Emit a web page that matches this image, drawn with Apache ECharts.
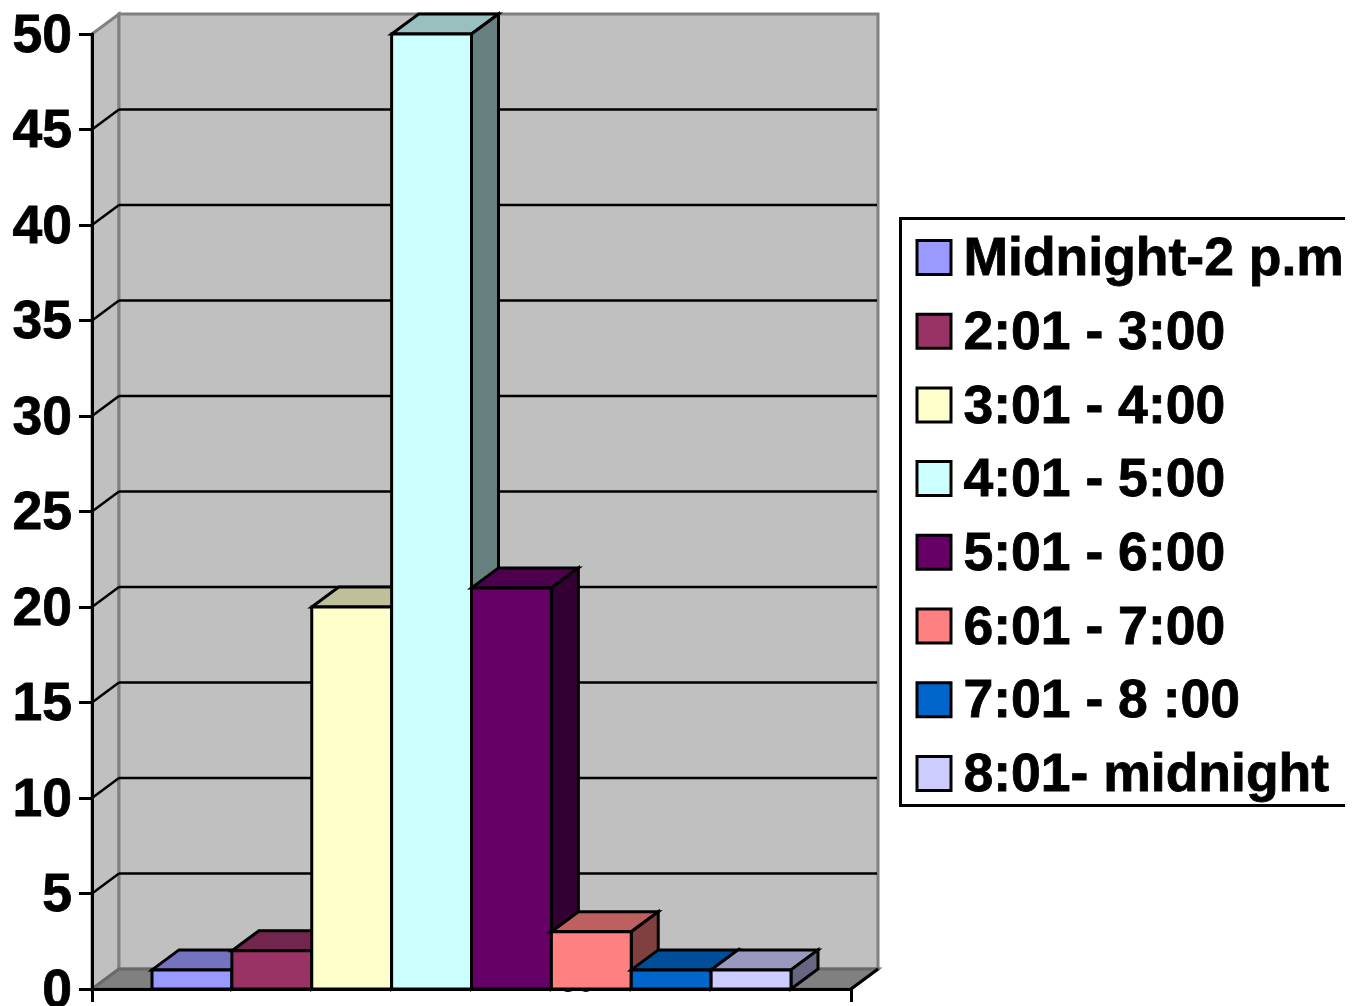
<!DOCTYPE html>
<html>
<head>
<meta charset="utf-8">
<title>Arrivals by time of day</title>
<style>
  html, body { margin: 0; padding: 0; background: #fff; }
  #chart { width: 1358px; height: 1006px; }
</style>
<script src="https://cdn.jsdelivr.net/npm/echarts@6/dist/echarts.min.js"></script>
</head>
<body>
<div id="chart"></div>
<script>
// Time bands and the count for each one
const bandNames = ['Midnight-2 p.m', '2:01 - 3:00', '3:01 - 4:00', '4:01 - 5:00',
                   '5:01 - 6:00', '6:01 - 7:00', '7:01 - 8 :00', '8:01- midnight'];
const bandValues = [1, 2, 20, 50, 21, 3, 1, 1];
const bandColors = ['#9999ff', '#993366', '#ffffcc', '#ccffff',
                    '#660066', '#ff8080', '#0066cc', '#ccccff'];
const yTicks = [0, 5, 10, 15, 20, 25, 30, 35, 40, 45, 50];
const xCategory = ['96'];

// Oblique projection used for the box and the columns
const DEPTH_X = 27;
const DEPTH_Y = -20;
const GROUP_SHARE = 639 / 759;   // part of the category band filled by the columns
const EDGE = 3;
const FONT = '"Liberation Sans", Arial, sans-serif';

// Shared style for the heavy axis and legend text
function heavyText(padding) {
  return {
    color: '#000',
    fontFamily: FONT,
    fontWeight: 'bold',
    fontSize: 53.5,
    lineHeight: 60,
    padding: padding,
    textBorderColor: '#000',
    textBorderWidth: 0.8
  };
}

function shade(hex, k) {
  const n = parseInt(hex.slice(1), 16);
  const c = [n >> 16, (n >> 8) & 255, n & 255].map(v => Math.round(v * k));
  return 'rgb(' + c.join(',') + ')';
}

function poly(points, fill, stroke, width) {
  return {
    type: 'polygon',
    shape: { points: points },
    style: { fill: fill, stroke: stroke, lineWidth: width, lineJoin: 'miter' }
  };
}

function seg(x1, y1, x2, y2, stroke, width) {
  return {
    type: 'line',
    shape: { x1: x1, y1: y1, x2: x2, y2: y2 },
    style: { stroke: stroke, lineWidth: width, fill: null }
  };
}

// Side wall, back wall, floor and the gridlines that run across them
function renderBox(params, api) {
  const left = params.coordSys.x;
  const right = left + params.coordSys.width;
  const base = api.coord([0, 0])[1];
  const top = api.coord([0, yTicks[yTicks.length - 1]])[1];
  const kids = [];
  kids.push({
    type: 'text',
    style: { text: xCategory[0], x: 577, y: base + 10, fill: '#000', align: 'center',
             verticalAlign: 'bottom', font: 'bold 30px ' + FONT }
  });
  kids.push(poly([[left, base], [left + DEPTH_X, base + DEPTH_Y],
                  [left + DEPTH_X, top + DEPTH_Y], [left, top]], '#c0c0c0', '#808080', EDGE));
  kids.push(poly([[left + DEPTH_X, base + DEPTH_Y], [right + DEPTH_X, base + DEPTH_Y],
                  [right + DEPTH_X, top + DEPTH_Y], [left + DEPTH_X, top + DEPTH_Y]],
                 '#c0c0c0', '#808080', EDGE));
  kids.push(poly([[left, base], [right, base], [right + DEPTH_X, base + DEPTH_Y],
                  [left + DEPTH_X, base + DEPTH_Y]], '#808080', '#696969', EDGE));
  kids.push(seg(right, base, right + DEPTH_X, base + DEPTH_Y, '#000', EDGE));
  yTicks.slice(1, -1).forEach(function (t) {
    const y = api.coord([0, t])[1];
    kids.push(seg(left, y, left + DEPTH_X, y + DEPTH_Y, '#000', 2.5));
    kids.push(seg(left + DEPTH_X, y + DEPTH_Y, right + DEPTH_X - 1, y + DEPTH_Y, '#000', 2.5));
  });
  return { type: 'group', children: kids };
}

// One extruded column: top and side first, front face last
function columnRenderer(index) {
  return function (params, api) {
    const centre = api.coord([0, 0])[0];
    const w = api.size([1, 0])[0] * GROUP_SHARE / bandNames.length;
    const x0 = centre + (index - bandNames.length / 2) * w;
    const x1 = x0 + w;
    const base = api.coord([0, 0])[1];
    const y = api.coord([0, api.value(1)])[1];
    const color = bandColors[index];
    return {
      type: 'group',
      children: [
        poly([[x0, y], [x1, y], [x1 + DEPTH_X, y + DEPTH_Y], [x0 + DEPTH_X, y + DEPTH_Y]],
             shade(color, 0.75), '#000', EDGE),
        poly([[x1, y], [x1 + DEPTH_X, y + DEPTH_Y],
              [x1 + DEPTH_X, base + DEPTH_Y], [x1, base]],
             shade(color, 0.5), '#000', EDGE),
        poly([[x0, y], [x1, y], [x1, base], [x0, base]], color, '#000', EDGE)
      ]
    };
  };
}

const columnSeries = bandNames.map(function (name, i) {
  return {
    name: name,
    type: 'custom',
    coordinateSystem: 'cartesian2d',
    z: 3,
    clip: false,
    itemStyle: { color: bandColors[i] },
    renderItem: columnRenderer(i),
    data: [[0, bandValues[i]]]
  };
});

const chart = echarts.init(document.getElementById('chart'), null, { renderer: 'canvas' });
chart.setOption({
  animation: false,
  backgroundColor: '#ffffff',
  grid: { left: 92, top: 34, width: 759, height: 955, containLabel: false, outerBoundsMode: 'none' },
  xAxis: {
    type: 'category',
    data: xCategory,
    z: 6,
    boundaryGap: true,
    axisLine: { lineStyle: { color: '#000', width: 3 } },
    axisTick: { show: true, alignWithLabel: false, length: 13, lineStyle: { color: '#000', width: 3 } },
    axisLabel: { show: false },
    splitLine: { show: false }
  },
  yAxis: {
    type: 'value',
    min: 0,
    max: 50,
    interval: 5,
    z: 6,
    axisLine: { show: true, lineStyle: { color: '#000', width: 3 } },
    axisTick: { show: true, length: 13, lineStyle: { color: '#000', width: 3 } },
    axisLabel: {
      margin: 20,
      formatter: function (v) { return '{t|' + v + '}'; },
      rich: { t: heavyText([6, 0, 0, 0]) }
    },
    splitLine: { show: false }
  },
  legend: {
    orient: 'vertical',
    left: 915.5,
    top: 227.5,
    padding: 0,
    itemWidth: 34,
    itemHeight: 34,
    itemGap: 13.3,
    selectedMode: false,
    formatter: function (name) { return '{t|' + name + '}'; },
    textStyle: {
      lineHeight: 66,
      rich: { t: heavyText([6, 0, 0, 7.5]) }
    },
    data: bandNames.map(function (name, i) {
      return {
        name: name,
        icon: 'rect',
        itemStyle: { color: bandColors[i], borderColor: '#000', borderWidth: 3 }
      };
    })
  },
  graphic: [{
    type: 'polyline',
    z: 10,
    shape: { points: [[1345, 218.5], [900.5, 218.5], [900.5, 805.5], [1345, 805.5]] },
    style: { fill: null, stroke: '#000', lineWidth: 3 }
  }],
  series: [{
    name: 'box',
    type: 'custom',
    coordinateSystem: 'cartesian2d',
    z: 1,
    clip: false,
    silent: true,
    renderItem: renderBox,
    data: [[0, 0]]
  }].concat(columnSeries)
});
</script>
</body>
</html>
